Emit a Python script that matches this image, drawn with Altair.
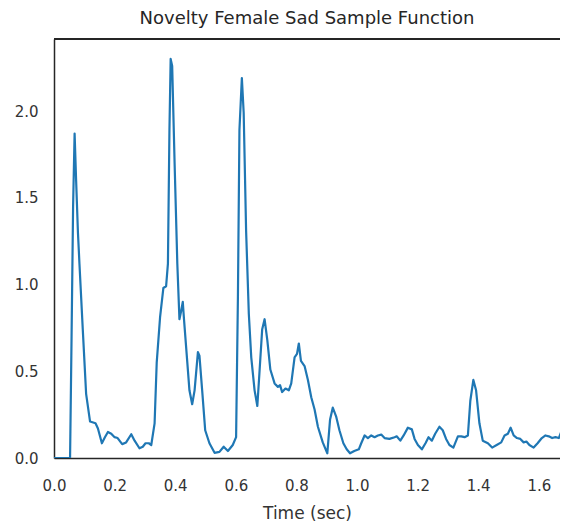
import altair as alt
import pandas as pd

time_sec = [0.0, 0.053, 0.058, 0.063, 0.068, 0.073, 0.079, 0.084, 0.095, 0.106, 0.119, 0.137, 0.145,
            0.158, 0.168, 0.178, 0.189, 0.2, 0.21, 0.225, 0.238, 0.255, 0.266, 0.282, 0.293, 0.302,
            0.313, 0.321, 0.332, 0.339, 0.35, 0.361, 0.37, 0.376, 0.381, 0.385, 0.39, 0.398, 0.407,
            0.414, 0.42, 0.425, 0.429, 0.44, 0.447, 0.456, 0.464, 0.475, 0.48, 0.489, 0.499, 0.513,
            0.53, 0.546, 0.56, 0.574, 0.59, 0.601, 0.607, 0.612, 0.62, 0.626, 0.634, 0.643, 0.651,
            0.662, 0.671, 0.678, 0.687, 0.695, 0.704, 0.714, 0.728, 0.739, 0.746, 0.753, 0.764,
            0.775, 0.783, 0.794, 0.802, 0.808, 0.815, 0.827, 0.838, 0.849, 0.86, 0.871, 0.887,
            0.902, 0.911, 0.92, 0.931, 0.942, 0.955, 0.966, 0.977, 0.991, 1.006, 1.014, 1.025,
            1.036, 1.047, 1.058, 1.069, 1.08, 1.091, 1.107, 1.124, 1.131, 1.143, 1.154, 1.168,
            1.181, 1.19, 1.201, 1.214, 1.226, 1.236, 1.247, 1.258, 1.272, 1.283, 1.294, 1.305,
            1.318, 1.333, 1.344, 1.355, 1.366, 1.374, 1.384, 1.393, 1.404, 1.415, 1.432, 1.446,
            1.461, 1.476, 1.487, 1.498, 1.507, 1.517, 1.528, 1.539, 1.55, 1.559, 1.569, 1.583,
            1.596, 1.61, 1.622, 1.633, 1.644, 1.655, 1.666, 1.674, 1.685, 1.695]

novelty = [0.0, 0.0, 0.7, 1.45, 1.87, 1.6, 1.3, 1.12, 0.74, 0.37, 0.21, 0.2, 0.17,
           0.085, 0.12, 0.15, 0.14, 0.12, 0.115, 0.08, 0.09, 0.137, 0.1, 0.056, 0.065, 0.085,
           0.085, 0.075, 0.2, 0.55, 0.81, 0.98, 0.99, 1.12, 1.89, 2.3, 2.26, 1.7, 1.12,
           0.8, 0.85, 0.9, 0.8, 0.55, 0.39, 0.31, 0.39, 0.61, 0.59, 0.39, 0.16, 0.085,
           0.03, 0.035, 0.065, 0.04, 0.075, 0.12, 0.93, 1.89, 2.19, 1.99, 1.31, 0.83, 0.58,
           0.39, 0.3, 0.49, 0.74, 0.8, 0.68, 0.51, 0.43, 0.41, 0.42, 0.38, 0.4,
           0.39, 0.43, 0.58, 0.6, 0.66, 0.56, 0.53, 0.45, 0.35, 0.28, 0.18, 0.09,
           0.027, 0.22, 0.29, 0.24, 0.16, 0.085, 0.05, 0.027, 0.04, 0.05, 0.085, 0.13,
           0.115, 0.13, 0.12, 0.13, 0.135, 0.115, 0.11, 0.12, 0.125, 0.1, 0.13, 0.175,
           0.165, 0.11, 0.075, 0.05, 0.085, 0.12, 0.1, 0.14, 0.18, 0.16, 0.11, 0.075,
           0.06, 0.125, 0.125, 0.12, 0.13, 0.33, 0.45, 0.39, 0.2, 0.1, 0.085, 0.06,
           0.075, 0.09, 0.13, 0.14, 0.175, 0.13, 0.115, 0.11, 0.09, 0.095, 0.075, 0.06,
           0.085, 0.115, 0.13, 0.125, 0.115, 0.12, 0.115, 0.15, 0.18, 0.165]

x_ticks = [0.0, 0.2, 0.4, 0.6, 0.8, 1.0, 1.2, 1.4, 1.6]
y_ticks = [0.0, 0.5, 1.0, 1.5, 2.0]

df = pd.DataFrame({"t": time_sec, "v": novelty})

W, H = 506, 419
FONT = "DejaVu Sans"

line = alt.Chart(df).mark_line(color="#1f77b4", strokeWidth=2.2, strokeJoin="round",
                               clip=True).encode(
    x=alt.X("t:Q", title="Time (sec)",
            scale=alt.Scale(domain=[0, W / 303.0], nice=False, zero=False),
            axis=alt.Axis(values=x_ticks, format=".1f", grid=False, ticks=False,
                          labelFlush=False, labelPadding=20, titlePadding=12,
                          domainColor="#262626", domainWidth=1.5, labelFontSize=15,
                          titleFontSize=17, titleFontWeight="normal",
                          labelColor="#333333", titleColor="#333333",
                          labelFont=FONT, titleFont=FONT)),
    y=alt.Y("v:Q", title=None,
            scale=alt.Scale(domain=[0, H / 173.5], nice=False),
            axis=alt.Axis(values=y_ticks, format=".1f", grid=False, ticks=False,
                          labelFlush=False, labelPadding=16, domainColor="#262626",
                          domainWidth=1.5, labelFontSize=15, labelColor="#333333",
                          labelFont=FONT)),
)

top_rule = alt.Chart(df).mark_rule(color="#262626", strokeWidth=1.5).encode(
    x=alt.value(0), x2=alt.value(W), y=alt.value(0)
)

chart = alt.layer(line, top_rule).properties(
    width=W, height=H,
    title=alt.TitleParams("Novelty Female Sad Sample Function", font=FONT, fontSize=18,
                          fontWeight="normal", color="#262626", offset=10),
    autosize=alt.AutoSizeParams(type="none"),
    padding={"left": 46, "top": 31, "right": 0, "bottom": 71},
).configure_view(stroke=None).configure(background="white")

chart.save("out.html", embed_options={"renderer": "svg", "actions": False})
